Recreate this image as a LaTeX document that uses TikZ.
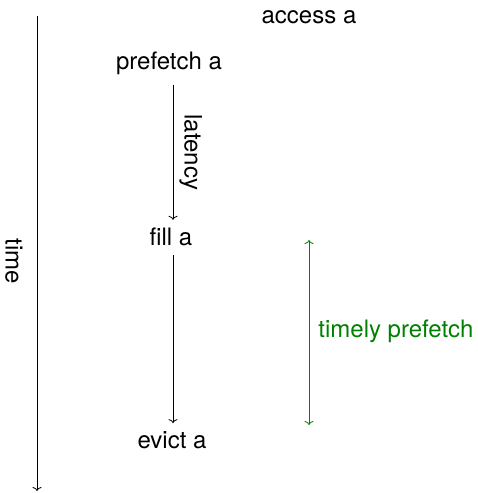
\documentclass[tikz,border=0pt]{standalone}
\usepackage{fontspec}
\setmainfont{TeX Gyre Heros}
\usetikzlibrary{arrows.meta}
\definecolor{tgreen}{rgb}{0,0.5,0}
\begin{document}
\begin{tikzpicture}[x=1pt,y=-1pt,
  lbl/.style={inner sep=0pt,font=\fontsize{24}{28}\selectfont},
  conn/.style={line width=0.8pt,-{To[length=4pt,width=9pt]}},
  both/.style={line width=0.8pt,{To[length=4pt,width=9pt]}-{To[length=4pt,width=9pt]}}]
\useasboundingbox (0,0) rectangle (477,493);
% time axis
\coordinate (t0) at (37,16);
\coordinate (t1) at (37,491);
\draw[conn] (t0) -- (t1);
\node[lbl,rotate=-90] (time) at (14,261) {time};
% events
\node[lbl] (access) at (309,17) {access a};
\node[lbl] (prefetch) at (169,63) {prefetch a};
\node[lbl] (fill) at (171,237) {fill a};
\node[lbl] (evict) at (172,440) {evict a};
\draw[conn] ([xshift=4pt,yshift=-10pt]prefetch.south) -- ([xshift=2pt,yshift=8pt]fill.north)
  node[midway,right=6pt,lbl,rotate=-90,anchor=south] (latency) {latency};
\draw[conn] ([xshift=2pt,yshift=-9pt]fill.south) -- ([xshift=1pt,yshift=8pt]evict.north);
% timely prefetch
\coordinate (g0) at (309,240);
\coordinate (g1) at (309,425);
\draw[both,tgreen] (g0) -- (g1);
\node[lbl,tgreen] (timely) at (396,331) {timely prefetch};
\end{tikzpicture}
\end{document}
